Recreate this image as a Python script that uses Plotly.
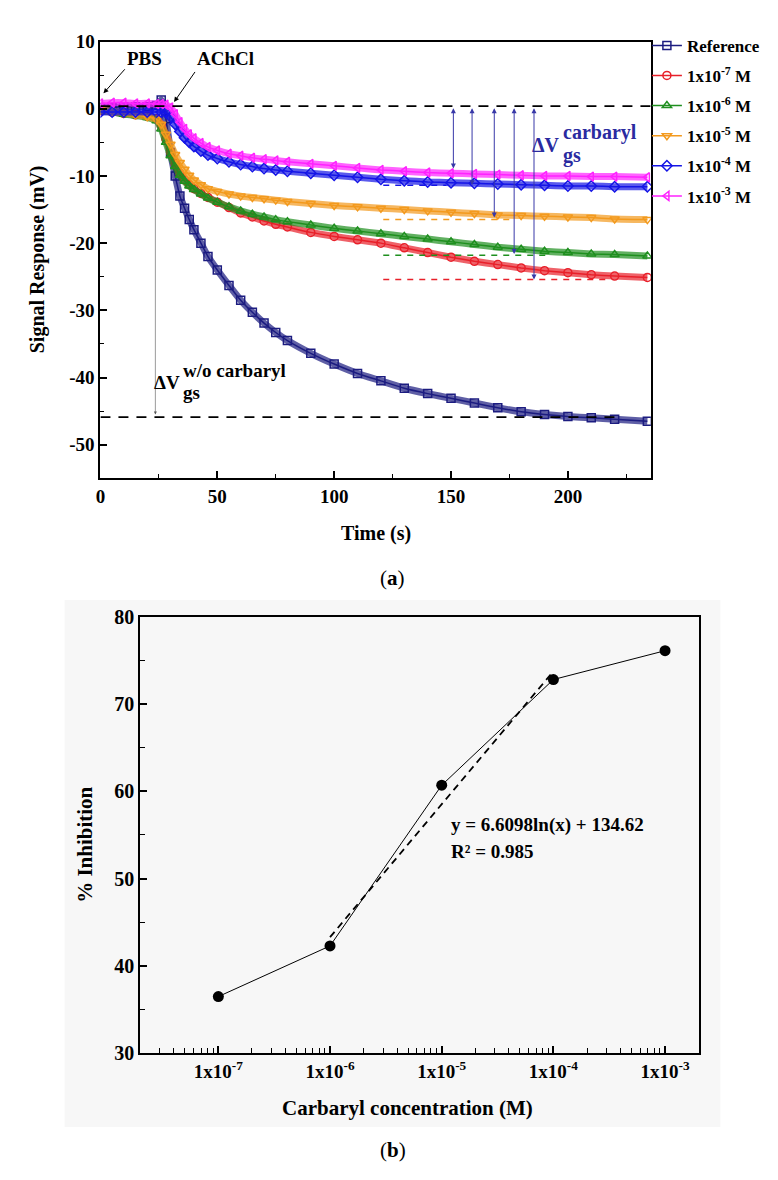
import plotly.graph_objects as go
import math

# ---------------- Panel (a) data: signal response vs time ----------------
time_s = [0, 5, 10, 15, 20, 24, 26, 28, 30, 32, 34, 36, 38, 40, 43, 46, 50, 55, 60, 65, 70, 75, 80,
          90, 100, 110, 120, 130, 140, 150, 160, 170, 180, 190, 200, 210, 220, 234]

ref_mv = [0.2, 0.2, 0.3, 0.3, 0.3, 0.5, 1.3, -1.5, -6.5, -10.0, -13.0, -14.8, -16.5, -18.0, -20.0, -22.0,
          -24.0, -26.3, -28.5, -30.3, -31.9, -33.3, -34.5, -36.4, -38.0, -39.4, -40.5, -41.6, -42.4,
          -43.1, -43.8, -44.5, -45.1, -45.5, -45.8, -46.0, -46.2, -46.5]
m1e7_mv = [-0.3, -0.5, -0.7, -0.9, -1.1, -1.5, -2.5, -4.5, -6.5, -8.2, -9.6, -10.6, -11.3, -11.9, -12.6,
           -13.2, -13.9, -14.7, -15.5, -16.1, -16.7, -17.2, -17.6, -18.4, -19.0, -19.5, -20.0, -20.7,
           -21.4, -22.1, -22.7, -23.2, -23.7, -24.1, -24.4, -24.7, -24.9, -25.1]
m1e6_mv = [-0.3, -0.5, -0.8, -1.0, -1.3, -1.8, -3.0, -5.0, -7.0, -8.6, -9.9, -10.8, -11.5, -12.0, -12.7,
           -13.3, -13.9, -14.6, -15.2, -15.7, -16.1, -16.5, -16.8, -17.3, -17.8, -18.2, -18.6, -19.0,
           -19.4, -19.8, -20.2, -20.6, -20.9, -21.2, -21.4, -21.6, -21.7, -21.9]
m1e5_mv = [-0.2, -0.4, -0.6, -0.9, -1.2, -1.6, -2.3, -3.8, -5.3, -6.8, -8.0, -9.0, -9.9, -10.6, -11.3,
           -11.9, -12.3, -12.7, -13.0, -13.2, -13.4, -13.6, -13.8, -14.1, -14.4, -14.6, -14.8, -15.0,
           -15.2, -15.4, -15.6, -15.8, -15.9, -16.0, -16.1, -16.2, -16.4, -16.5]
m1e4_mv = [-0.5, -0.5, -0.5, -0.5, -0.5, -0.5, -0.5, -0.6, -1.2, -2.3, -3.4, -4.3, -5.0, -5.6, -6.3,
           -6.9, -7.4, -7.9, -8.3, -8.6, -8.9, -9.1, -9.3, -9.6, -9.9, -10.2, -10.5, -10.7, -10.9,
           -11.0, -11.1, -11.2, -11.3, -11.4, -11.5, -11.5, -11.6, -11.6]
m1e3_mv = [0.8, 0.9, 0.9, 0.8, 0.8, 0.7, 0.7, 0.6, 0.2, -0.8, -2.0, -3.0, -3.8, -4.4, -5.1, -5.7, -6.2,
           -6.7, -7.0, -7.3, -7.5, -7.7, -7.9, -8.2, -8.5, -8.8, -9.1, -9.3, -9.5, -9.6, -9.7, -9.8,
           -9.9, -10.0, -10.0, -10.1, -10.1, -10.2]

series_names = ["Reference", "1x10<sup>-7</sup> M", "1x10<sup>-6</sup> M", "1x10<sup>-5</sup> M",
                "1x10<sup>-4</sup> M", "1x10<sup>-3</sup> M"]
series_vals = [ref_mv, m1e7_mv, m1e6_mv, m1e5_mv, m1e4_mv, m1e3_mv]
series_colors = ["#1c1c80", "#e8202a", "#1f8f1f", "#f39a1e", "#1515e6", "#ff22ff"]
series_symbols = ["square-open", "circle-open", "triangle-up-open", "triangle-down-open",
                  "diamond-open", "triangle-left-open"]

# tick labels of panel (a) y axis (hyphen minus as in the original)
signal_ticks = [-50, -40, -30, -20, -10, 0, 10]
signal_ticktext = ["-50", "-40", "-30", "-20", "-10", "0", "10"]

# baseline / final levels marked in panel (a)
baseline_level = 0.4
ref_final_level = -45.9
final_levels = [-11.4, -16.5, -21.8, -25.4]
final_colors = ["#1515e6", "#f39a1e", "#1f8f1f", "#e8202a"]
final_ends = [148, 177, 192, 217]
arrow_times = [151, 159, 168.5, 177, 185.5]
arrow_bottoms = [-8.9, -11.4, -16.2, -21.6, -25.4]

# ---------------- Panel (b) data: inhibition vs concentration ----------------
conc_M = [1e-7, 1e-6, 1e-5, 1e-4, 1e-3]
inhibition_pct = [36.5, 42.3, 60.7, 72.8, 76.1]
conc_ticktext = ["1x10<sup>-7</sup>", "1x10<sup>-6</sup>", "1x10<sup>-5</sup>",
                 "1x10<sup>-4</sup>", "1x10<sup>-3</sup>"]
fit_slope = 6.6098
fit_intercept = 134.62
fit_conc = [1e-6, 1e-4]

W, H = 778, 1180
OFF = 8  # page body margin offset
FONT = "Liberation Serif"


def PX(px):
    return (px - OFF) / W


def PY(py):
    return 1 - (py - OFF) / H


def P(px, py):
    return PX(px), PY(py)


fig = go.Figure()

# ----- panel (a) traces -----
for i, (name, vals, col, sym) in enumerate(zip(series_names, series_vals, series_colors, series_symbols)):
    fig.add_trace(go.Scatter(x=time_s, y=vals, mode="lines", xaxis="x", yaxis="y",
                             line=dict(color=col, width=7, shape="spline", smoothing=0.5),
                             opacity=0.7, showlegend=False, hoverinfo="skip", legendgroup=f"g{i}"))
    fig.add_trace(go.Scatter(x=time_s, y=vals, mode="lines+markers", name=name, xaxis="x", yaxis="y",
                             legendgroup=f"g{i}",
                             line=dict(color=col, width=1.5, shape="spline", smoothing=0.5),
                             marker=dict(symbol=sym, size=8, color=col, line=dict(width=1.5, color=col))))

# ----- panel (b) traces -----
fig.add_trace(go.Scatter(x=conc_M, y=inhibition_pct, mode="lines+markers", xaxis="x2", yaxis="y2",
                         line=dict(color="black", width=1), marker=dict(size=11, color="black"),
                         showlegend=False))
fit_y = [fit_slope * math.log(c) + fit_intercept for c in fit_conc]
fig.add_trace(go.Scatter(x=fit_conc, y=fit_y, mode="lines", xaxis="x2", yaxis="y2",
                         line=dict(color="black", width=1.8, dash="7px,5px"), showlegend=False))

shapes = []
# grey backdrop behind panel (b)
x0, y1 = P(60, 600)
x1, y0 = P(720, 1137)
shapes.append(dict(type="rect", xref="paper", yref="paper", x0=x0, x1=x1, y0=y0, y1=y1,
                   fillcolor="#f7f7f7", line=dict(width=0), layer="below"))
# dashed reference levels
shapes.append(dict(type="line", xref="x", yref="y", x0=0, x1=235.5, y0=baseline_level, y1=baseline_level,
                   line=dict(color="black", width=1.8, dash="10px,8px")))
shapes.append(dict(type="line", xref="x", yref="y", x0=0, x1=222, y0=ref_final_level, y1=ref_final_level,
                   line=dict(color="black", width=1.8, dash="10px,8px")))
for lvl, col, xe in zip(final_levels, final_colors, final_ends):
    shapes.append(dict(type="line", xref="x", yref="y", x0=121, x1=xe, y0=lvl, y1=lvl,
                       line=dict(color=col, width=1.5, dash="6px,6px")))

annotations = []


def text_ann(txt, px, py, size, color="black", xanchor="center", angle=0, bold=True):
    x, y = P(px, py)
    annotations.append(dict(text=txt, x=x, y=y, xref="paper", yref="paper", showarrow=False,
                            xanchor=xanchor, yanchor="middle", textangle=angle, borderpad=0,
                            font=dict(family=FONT, size=size, color=color,
                                      weight="bold" if bold else "normal")))


# vertical double arrows (ΔV carbaryl)
for t, yb in zip(arrow_times, arrow_bottoms):
    annotations.append(dict(x=t, y=yb, ax=t, ay=baseline_level - 0.1, xref="x", yref="y", axref="x",
                            ayref="y", text="", showarrow=True, arrowhead=2, startarrowhead=2,
                            arrowside="end+start", arrowsize=1, arrowwidth=1, arrowcolor="#3838a8"))
# ΔV w/o carbaryl arrow
annotations.append(dict(x=23.5, y=ref_final_level + 0.4, ax=23.5, ay=-0.6, xref="x", yref="y", axref="x",
                        ayref="y", text="", showarrow=True, arrowhead=2, startarrowhead=2,
                        arrowside="end+start", arrowsize=1, arrowwidth=0.6, arrowcolor="#555555"))
# PBS / AChCl pointers
annotations.append(dict(x=1.3, y=2.3, ax=11, ay=6.1, xref="x", yref="y", axref="x", ayref="y", text="",
                        showarrow=True, arrowhead=2, arrowsize=1, arrowwidth=1, arrowcolor="black"))
annotations.append(dict(x=31.5, y=1.0, ax=40.9, ay=5.7, xref="x", yref="y", axref="x", ayref="y", text="",
                        showarrow=True, arrowhead=2, arrowsize=1, arrowwidth=1, arrowcolor="black"))
text_ann("PBS", 140, 48, 19)
text_ann("AChCl", 222, 48, 19)

# ΔV labels
navy = "#2a2aa0"
text_ann("ΔV", 560, 136, 20, color=navy, xanchor="right")
text_ann("carbaryl", 561, 124, 20, color=navy, xanchor="left")
text_ann("gs", 561, 147, 20, color=navy, xanchor="left")
text_ann("ΔV", 177, 378, 19, xanchor="right")
text_ann("w/o carbaryl", 178, 366, 19, xanchor="left")
text_ann("gs", 178, 389, 19, xanchor="left")

# axis titles / captions
text_ann("Signal Response (mV)", 33, 253, 20, angle=-90)
text_ann("Time (s)", 373, 532, 20)
text_ann("(<b>a</b>)", 390, 578, 21, bold=False)
text_ann("% Inhibition", 81, 850, 21, angle=-90)
text_ann("Carbaryl concentration (M)", 405, 1118, 21)
text_ann("(<b>b</b>)", 390, 1160, 21, bold=False)
text_ann("y = 6.6098ln(x) + 134.62", 448, 829, 19, xanchor="left")
text_ann("R² = 0.985", 448, 856, 19, xanchor="left")

tickfont = dict(family=FONT, size=19, color="black", weight="bold")
axis_common = dict(showline=True, linecolor="black", linewidth=2, mirror=True, ticks="inside",
                   ticklen=7, tickwidth=1.5, tickcolor="black", showgrid=False, zeroline=False,
                   tickfont=tickfont)

minor_log = [k * 10.0 ** e for e in range(-8, -2) for k in range(2, 10)
             if -7.7 <= math.log10(k * 10.0 ** e) <= -2.7]

fig.update_layout(
    width=W, height=H, autosize=False,
    margin=dict(l=0, r=0, t=0, b=0),
    paper_bgcolor="white", plot_bgcolor="rgba(0,0,0,0)",
    xaxis=dict(domain=[PX(96), PX(650)], anchor="y", range=[0, 235.5], dtick=50, tick0=0,
               minor=dict(ticks="inside", ticklen=4, tickwidth=1.2, dtick=25, tickcolor="black"),
               **axis_common),
    yaxis=dict(domain=[PY(476), PY(31)], anchor="x", range=[-55, 10],
               tickmode="array", tickvals=signal_ticks, ticktext=signal_ticktext,
               minor=dict(ticks="inside", ticklen=4, tickwidth=1.2, dtick=5, tick0=0, tickcolor="black"),
               **axis_common),
    xaxis2=dict(domain=[PX(136), PX(698)], anchor="y2", type="log", range=[-7.7, -2.7],
                tickmode="array", tickvals=conc_M, ticktext=conc_ticktext,
                minor=dict(ticks="inside", ticklen=5, tickwidth=1.2, tickvals=minor_log, tickcolor="black"),
                **axis_common),
    yaxis2=dict(domain=[PY(1062), PY(617)], anchor="x2", range=[30, 80], dtick=10, tick0=0,
                minor=dict(ticks="inside", ticklen=5, tickwidth=1.2, dtick=5, tickcolor="black"),
                **axis_common),
    legend=dict(x=PX(646), y=PY(17), xanchor="left", yanchor="top", bgcolor="rgba(0,0,0,0)",
                font=dict(family=FONT, size=17, color="black", weight="bold"), itemwidth=30,
                tracegroupgap=5),
    shapes=shapes,
    annotations=annotations,
)
fig.update_yaxes(tickfont=dict(size=20), selector=dict(anchor="x2"))

fig.write_html("out.html")
